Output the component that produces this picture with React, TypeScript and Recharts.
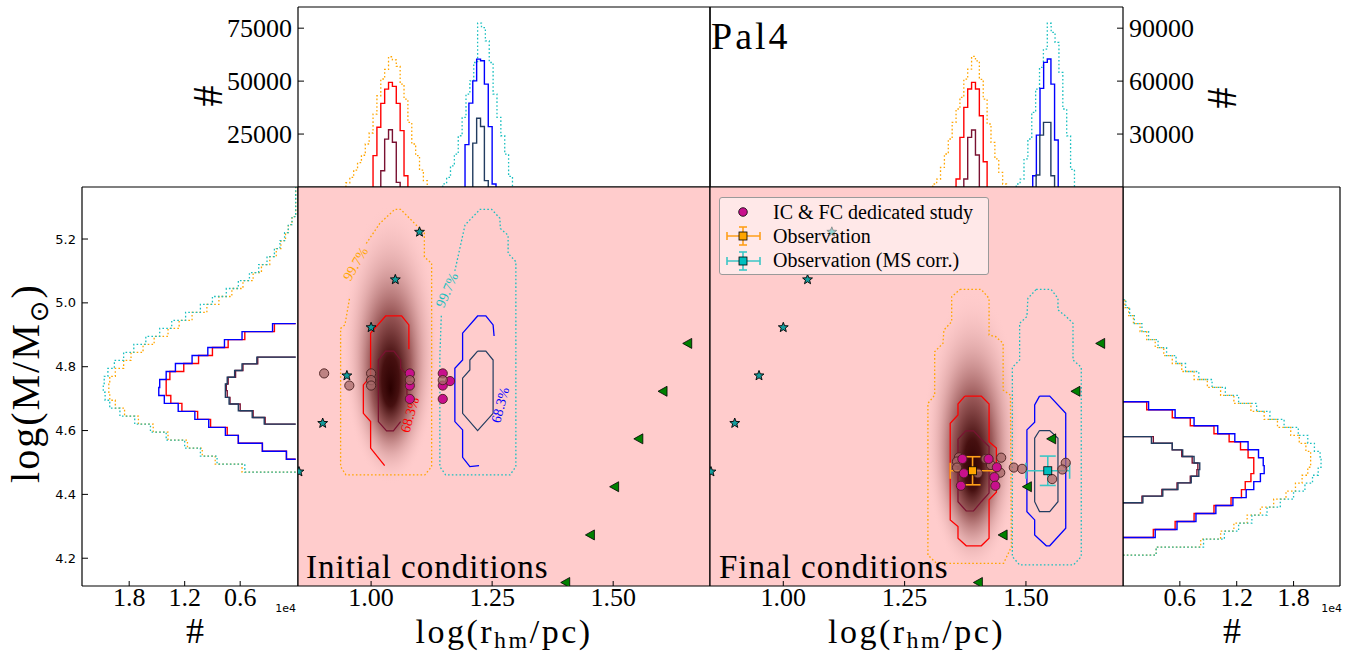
import React from 'react';
import { ComposedChart, Line, Scatter, XAxis, YAxis, CartesianGrid, ReferenceArea, ErrorBar, Legend } from 'recharts';

const SERIF = "'Liberation Serif', 'Times New Roman', serif";
const SANS = "'DejaVu Sans', Arial, sans-serif";

const ORANGE = '#ffa500';
const CYAN = '#19bfbf';
const RED = '#ff0000';
const BLUE = '#0000ff';
const MAROON = '#7a1232';
const NAVY = '#223c60';
const PINK = '#ffcccc';
const MAGENTA = '#c8108c';
const BROWN = '#a86a6a';

// ---- axes ----
const R_DOMAIN = [0.849, 1.7];
const M_DOMAIN = [4.113, 5.363];
const R_TICKS_MAIN = [1.0, 1.25, 1.5];
const R_TICKS_HIST = [0.9, 1.0, 1.1, 1.2, 1.3, 1.4, 1.5, 1.6];
const M_TICKS = [4.2, 4.4, 4.6, 4.8, 5.0, 5.2];
const N_DOMAIN_IC = [0, 85000];
const N_TICKS_IC = [25000, 50000, 75000];
const N_DOMAIN_FC = [0, 102000];
const N_TICKS_FC = [30000, 60000, 90000];
const NM_DOMAIN_IC = [-250, 23100];
const NM_DOMAIN_FC = [0, 22900];
const NM_TICKS = [6000, 12000, 18000];

// ---- top histograms: counts per log(r_hm/pc) bin ----
const IC_R_ORANGE_X0 = 0.948;
const IC_R_ORANGE = [2000, 4500, 8000, 11500, 15000, 20300, 25500, 34400, 43100, 51000, 55500, 61500, 60000, 57000, 48600, 41500, 30500, 20300, 14800, 8000, 3000];
const IC_R_RED_X0 = 1.004;
const IC_R_RED = [14800, 28200, 39500, 46200, 49400, 47500, 39500, 26600, 5300];
const IC_R_MAROON_X0 = 1.02;
const IC_R_MAROON = [7700, 22600, 27000, 21100, 2200];
const IC_R_CYAN_X0 = 1.148;
const IC_R_CYAN = [1500, 4500, 10000, 15500, 24200, 32900, 43900, 50100, 58800, 77400, 75300, 69000, 58800, 43900, 32900, 24200, 15500, 5000];
const IC_R_BLUE_X0 = 1.194;
const IC_R_BLUE = [20000, 39600, 50100, 60400, 59600, 48600, 28500, 1400];
const IC_R_NAVY_X0 = 1.21;
const IC_R_NAVY = [20700, 32500, 28600, 3000];

const FC_R_ORANGE_X0 = 1.308;
const FC_R_ORANGE = [1700, 4500, 11100, 18700, 27200, 36600, 44200, 50800, 61100, 66800, 74000, 71500, 61000, 49800, 35700, 25300, 15900, 8300, 1700];
const FC_R_RED_X0 = 1.356;
const FC_R_RED = [4500, 28100, 45100, 55500, 59300, 55500, 40400, 14300];
const FC_R_MAROON_X0 = 1.372;
const FC_R_MAROON = [4500, 28100, 32300, 18100];
const FC_R_CYAN_X0 = 1.48;
const FC_R_CYAN = [1700, 4500, 15900, 27200, 42300, 55500, 67800, 78100, 92800, 87600, 81900, 64900, 44200, 29000, 10000];
const FC_R_BLUE_X0 = 1.514;
const FC_R_BLUE = [6400, 29400, 55900, 70600, 72500, 58300, 26600];
const FC_R_NAVY_X0 = 1.521;
const FC_R_NAVY = [6800, 29400, 36600, 36600, 6400];

// ---- side histograms: counts per log(M/Msun) bin ----
const IC_M_WIDE_Y0 = 4.47;
const IC_M_ORANGE = [5800, 8700, 10100, 11700, 13800, 15400, 17000, 18500, 19500, 20100, 20200, 20100, 19500, 18600, 17800, 16500, 15300, 13800, 12600, 11200, 9600, 8300, 6900, 5700, 4600, 3700, 2800, 2100, 1600, 1100, 800, 400, 0, 0, 0, 0, 0];
const IC_M_CYAN = [5500, 8500, 10300, 12000, 14000, 15700, 17400, 19000, 20100, 20600, 20800, 20700, 20300, 19600, 18600, 17500, 16200, 14700, 13400, 11900, 10300, 9000, 7500, 6200, 5000, 4000, 3100, 2300, 1700, 1200, 800, 400, 0, 0, 0, 0, 0];
const IC_M_MID_Y0 = 4.51;
const IC_M_RED = [1000, 3600, 6200, 7400, 9200, 10600, 12300, 13500, 14000, 14000, 13600, 12100, 10500, 9000, 7300, 5500, 2300];
const IC_M_BLUE = [1000, 3600, 6200, 7600, 9400, 10900, 12700, 14200, 14800, 14700, 14000, 13000, 11200, 9500, 7700, 5800, 2500];
const IC_M_CORE_Y0 = 4.62;
const IC_M_MAROON = [3300, 4600, 6000, 7100, 7400, 7500, 7300, 6500, 5700, 4100];
const IC_M_NAVY = [3400, 4700, 6200, 7200, 7600, 7600, 7400, 6600, 5800, 4200];

const FC_M_WIDE_Y0 = 4.21;
const FC_M_ORANGE = [3500, 8200, 10300, 11700, 13100, 14500, 15900, 17200, 18200, 18900, 19500, 19800, 19800, 19300, 18600, 17700, 16300, 14900, 13500, 11700, 10300, 8900, 7500, 6200, 5200, 4300, 3400, 2500, 1800, 1100, 600, 200];
const FC_M_CYAN = [3500, 8500, 10700, 12200, 13600, 15200, 16600, 18000, 19200, 20000, 20600, 20900, 20800, 20200, 19500, 18500, 17000, 15500, 14100, 12200, 10800, 9400, 8000, 6600, 5600, 4600, 3700, 2700, 2000, 1200, 700, 300];
const FC_M_MID_Y0 = 4.265;
const FC_M_RED = [3200, 5500, 7500, 9600, 11400, 12500, 12900, 13500, 13800, 13800, 13200, 12400, 11200, 9600, 7100, 5200, 2500];
const FC_M_BLUE = [3400, 5700, 7700, 9800, 11600, 13000, 13800, 14500, 14900, 14800, 14300, 13200, 11800, 10000, 7500, 5500, 2700];
const FC_M_CORE_Y0 = 4.374;
const FC_M_MAROON = [2000, 4100, 5700, 7100, 7800, 7900, 7300, 6200, 5200, 3200];
const FC_M_NAVY = [2100, 4200, 5800, 7200, 8000, 8100, 7500, 6300, 5200, 3000];

// ---- contours (log r, log M) ----
const IC_C_ORANGE = [[0.99, 5.186], [1.018, 5.249], [1.049, 5.293], [1.061, 5.293], [1.11, 5.218], [1.11, 5.144], [1.125, 5.124], [1.125, 4.487], [1.111, 4.461], [0.948, 4.461], [0.937, 4.487], [0.937, 4.92], [0.946, 4.931], [0.956, 5.019]];
const IC_C_CYAN = [[1.173, 5.1], [1.194, 5.244], [1.225, 5.293], [1.249, 5.293], [1.266, 5.265], [1.267, 5.233], [1.283, 5.212], [1.283, 5.155], [1.299, 5.129], [1.299, 4.487], [1.287, 4.461], [1.154, 4.461], [1.142, 4.487], [1.142, 4.831], [1.145, 4.96]];
const IC_C_RED = [[1.078, 4.855], [1.078, 4.931], [1.063, 4.959], [1.03, 4.959], [0.999, 4.905], [0.999, 4.769], [0.984, 4.743], [0.984, 4.654], [0.999, 4.628], [0.999, 4.545], [1.028, 4.49]];
const IC_C_MAROON = [[1.074, 4.711], [1.074, 4.776], [1.061, 4.795], [1.061, 4.821], [1.047, 4.849], [1.03, 4.849], [1.015, 4.821], [1.015, 4.628], [1.032, 4.599], [1.046, 4.599], [1.061, 4.628]];
const IC_C_BLUE = [[1.254, 4.896], [1.252, 4.931], [1.237, 4.959], [1.22, 4.959], [1.189, 4.905], [1.189, 4.821], [1.173, 4.795], [1.173, 4.628], [1.189, 4.602], [1.189, 4.516], [1.204, 4.487], [1.223, 4.49]];
const IC_C_NAVY = [[1.22, 4.849], [1.237, 4.849], [1.252, 4.821], [1.252, 4.654], [1.22, 4.6], [1.189, 4.654], [1.189, 4.764], [1.204, 4.79], [1.204, 4.821], [1.22, 4.849]];

const FC_C_ORANGE = [[1.364, 5.042], [1.408, 5.042], [1.424, 5.014], [1.424, 4.899], [1.438, 4.894], [1.453, 4.873], [1.453, 4.727], [1.468, 4.711], [1.47, 4.236], [1.454, 4.184], [1.316, 4.184], [1.298, 4.21], [1.298, 4.685], [1.312, 4.711], [1.312, 4.847], [1.329, 4.873], [1.331, 4.915], [1.347, 4.941], [1.347, 5.019], [1.364, 5.042]];
const FC_C_CYAN = [[1.521, 5.042], [1.552, 5.042], [1.566, 5.014], [1.566, 4.978], [1.583, 4.957], [1.597, 4.936], [1.597, 4.821], [1.614, 4.798], [1.614, 4.205], [1.598, 4.179], [1.487, 4.179], [1.472, 4.205], [1.472, 4.798], [1.487, 4.821], [1.487, 4.936], [1.502, 4.957], [1.504, 5.014], [1.521, 5.042]];
const FC_C_RED = [[1.374, 4.708], [1.408, 4.708], [1.424, 4.683], [1.424, 4.565], [1.439, 4.545], [1.439, 4.407], [1.424, 4.383], [1.424, 4.263], [1.408, 4.239], [1.377, 4.239], [1.36, 4.263], [1.36, 4.299], [1.344, 4.32], [1.344, 4.623], [1.36, 4.649], [1.36, 4.683], [1.374, 4.708]];
const FC_C_MAROON = [[1.376, 4.599], [1.392, 4.599], [1.408, 4.573], [1.424, 4.55], [1.424, 4.404], [1.408, 4.377], [1.392, 4.348], [1.377, 4.348], [1.36, 4.377], [1.36, 4.573], [1.376, 4.599]];
const FC_C_BLUE = [[1.528, 4.708], [1.549, 4.708], [1.582, 4.654], [1.582, 4.294], [1.549, 4.239], [1.542, 4.239], [1.518, 4.273], [1.518, 4.32], [1.502, 4.346], [1.502, 4.602], [1.518, 4.626], [1.518, 4.68], [1.528, 4.708]];
const FC_C_NAVY = [[1.528, 4.6], [1.549, 4.6], [1.566, 4.576], [1.566, 4.377], [1.549, 4.346], [1.528, 4.346], [1.518, 4.377], [1.518, 4.576], [1.528, 4.6]];

// contour level labels (position in data units)
const IC_LABEL_ORANGE = [{ x: 0.968, y: 5.122 }];
const IC_LABEL_CYAN = [{ x: 1.157, y: 5.04 }];
const IC_LABEL_RED = [{ x: 1.08, y: 4.649 }];
const IC_LABEL_BLUE = [{ x: 1.267, y: 4.68 }];

// ---- point sets ----
const STARS = [[1.1, 5.222], [1.05, 5.073], [1.0, 4.923], [0.95, 4.772], [0.9, 4.623], [0.851, 4.471]];
const TRIANGLES = [[1.654, 4.873], [1.603, 4.723], [1.553, 4.574], [1.503, 4.424], [1.453, 4.273], [1.402, 4.124]];
const IC_STUDY = [[1.08, 4.779], [1.08, 4.741], [1.08, 4.699], [1.148, 4.779], [1.148, 4.741], [1.148, 4.699], [1.163, 4.755]];
const IC_OTHER = [[0.903, 4.779], [0.955, 4.741], [1.0, 4.779], [1.0, 4.758], [1.0, 4.741], [1.08, 4.758], [1.148, 4.758]];
const FC_STUDY = [[1.369, 4.511], [1.372, 4.466], [1.366, 4.427], [1.423, 4.511], [1.44, 4.485], [1.435, 4.454], [1.437, 4.427]];
const FC_OTHER = [[1.362, 4.516], [1.358, 4.503], [1.358, 4.484], [1.401, 4.466], [1.417, 4.511], [1.428, 4.492], [1.449, 4.515], [1.447, 4.468], [1.475, 4.484], [1.492, 4.48], [1.554, 4.448], [1.582, 4.499], [1.575, 4.478]];
const OBS = [{ x: 1.39, y: 4.474, ex: 0.046, ey: 0.044 }];
const OBS_MS = [{ x: 1.545, y: 4.474, ex: 0.045, ey: 0.046 }];

const LEGEND_ITEMS = ['IC & FC dedicated study', 'Observation', 'Observation (MS corr.)'];

// ---------- helpers ----------
const pts = (a: number[][]) => a.map(([x, y]) => ({ x, y }));
const stepH = (x0: number, dx: number, counts: number[]) => {
  const out = [{ x: x0, y: 0 }];
  counts.forEach((c, i) => {
    out.push({ x: x0 + i * dx, y: c }, { x: x0 + (i + 1) * dx, y: c });
  });
  out.push({ x: x0 + counts.length * dx, y: 0 });
  return out;
};
const stepV = (y0: number, dy: number, counts: number[]) => stepH(y0, dy, counts).map((p) => ({ x: p.y, y: p.x }));

const NO_MARGIN = { top: 0, right: 0, bottom: 0, left: 0 };
const FRAME = { stroke: '#000', strokeWidth: 1.2 };
const TICK = { stroke: '#000', strokeWidth: 1 };
const TICK_FONT = { fontSize: 26, fontFamily: SERIF, fill: '#000' };

const line = (key: string, data: any[], color: string, dotted: boolean, yId = 'l', w = 1.4) => (
  <Line
    key={key}
    data={data}
    dataKey="y"
    xAxisId="b"
    yAxisId={yId}
    type="linear"
    stroke={color}
    strokeWidth={dotted ? 1.3 : w}
    strokeDasharray={dotted ? '1.6 2.2' : undefined}
    dot={false}
    activeDot={false}
    isAnimationActive={false}
  />
);

const xPair = (domain: number[], ticks: number[], bottomH: number, topH: number, fmt?: (v: number) => string, reversed = false) => [
  <XAxis key="xb" xAxisId="b" orientation="bottom" dataKey="x" type="number" domain={domain} allowDataOverflow reversed={reversed}
    ticks={ticks} interval={0} height={bottomH} tickSize={-5} tickMargin={7} tick={fmt ? TICK_FONT : false}
    tickFormatter={fmt} axisLine={FRAME} tickLine={TICK} />,
  <XAxis key="xt" xAxisId="t" orientation="top" type="number" domain={domain} allowDataOverflow reversed={reversed}
    ticks={ticks} interval={0} height={topH} tickSize={-5} tick={false} axisLine={FRAME} tickLine={TICK} />,
];

const yPair = (domain: number[], ticks: number[], leftW: number, rightW: number, opts: { left?: any; right?: any; rDomain?: number[]; rTicks?: number[]; fmt?: (v: number) => string }) => [
  <YAxis key="yl" yAxisId="l" orientation="left" dataKey="y" type="number" domain={domain} allowDataOverflow ticks={ticks}
    interval={0} width={leftW} tickSize={-6} tickMargin={opts.left ? 12 : 0} tick={opts.left || false} tickFormatter={opts.fmt}
    axisLine={FRAME} tickLine={TICK} />,
  <YAxis key="yr" yAxisId="r" orientation="right" type="number" domain={opts.rDomain || domain} allowDataOverflow
    ticks={opts.rTicks || ticks} interval={0} width={rightW} tickSize={-6} tickMargin={12} tick={opts.right || false}
    axisLine={FRAME} tickLine={TICK} />,
];

const Star = (p: any) => {
  const v: string[] = [];
  for (let k = 0; k < 10; k++) {
    const r = k % 2 === 0 ? 5.2 : 2.2;
    const a = -Math.PI / 2 + (k * Math.PI) / 5;
    v.push(`${p.cx + r * Math.cos(a)},${p.cy + r * Math.sin(a)}`);
  }
  return <polygon points={v.join(' ')} fill="#139c9c" stroke="#000" strokeWidth={0.9} />;
};
const Tri = (p: any) => (
  <polygon points={`${p.cx - 5},${p.cy} ${p.cx + 4},${p.cy - 5} ${p.cx + 4},${p.cy + 5}`} fill="#008000" stroke="#000" strokeWidth={0.8} />
);
const dotShape = (fill: string, opacity: number) => (p: any) => (
  <circle cx={p.cx} cy={p.cy} r={4.6} fill={fill} fillOpacity={opacity} stroke="#4a1f1f" strokeWidth={0.9} />
);
const squareShape = (fill: string) => (p: any) => (
  <rect x={p.cx - 4} y={p.cy - 4} width={8} height={8} fill={fill} stroke="#000" strokeWidth={0.8} />
);
const labelShape = (text: string, color: string, angle: number) => (p: any) => (
  <text x={p.cx} y={p.cy} transform={`rotate(${angle} ${p.cx} ${p.cy})`} textAnchor="middle" dominantBaseline="central"
    fill={color} fontSize={14} fontFamily={SERIF}>{text}</text>
);

const scatter = (key: string, data: any[], shape: any) => (
  <Scatter key={key} xAxisId="b" yAxisId="l" data={data} shape={shape} isAnimationActive={false} />
);

const blobGradient = (id: string, fy: number) => (
  <defs key={id}>
    <radialGradient id={id} cx="0.5" cy="0.5" r="0.5" fx="0.5" fy={fy}>
      <stop offset="0" stopColor="#2a0000" stopOpacity={1} />
      <stop offset="0.18" stopColor="#3c0606" stopOpacity={0.95} />
      <stop offset="0.42" stopColor="#752e2e" stopOpacity={0.72} />
      <stop offset="0.68" stopColor="#b27474" stopOpacity={0.36} />
      <stop offset="1" stopColor="#ffcccc" stopOpacity={0} />
    </radialGradient>
  </defs>
);

// ---------- panels ----------
function TopHistIC() {
  return (
    <ComposedChart width={522} height={192} margin={NO_MARGIN}>
      {xPair(R_DOMAIN, R_TICKS_HIST, 5, 7)}
      {yPair(N_DOMAIN_IC, N_TICKS_IC, 100, 10, { left: TICK_FONT })}
      {line('o', stepH(IC_R_ORANGE_X0, 0.008, IC_R_ORANGE), ORANGE, true)}
      {line('r', stepH(IC_R_RED_X0, 0.008, IC_R_RED), RED, false)}
      {line('m', stepH(IC_R_MAROON_X0, 0.008, IC_R_MAROON), MAROON, false)}
      {line('c', stepH(IC_R_CYAN_X0, 0.008, IC_R_CYAN), CYAN, true)}
      {line('b', stepH(IC_R_BLUE_X0, 0.008, IC_R_BLUE), BLUE, false)}
      {line('n', stepH(IC_R_NAVY_X0, 0.008, IC_R_NAVY), NAVY, false)}
    </ComposedChart>
  );
}

function TopHistFC() {
  return (
    <ComposedChart width={523} height={192} margin={NO_MARGIN}>
      {xPair(R_DOMAIN, R_TICKS_HIST, 5, 7)}
      {yPair(N_DOMAIN_IC, N_TICKS_IC, 10, 100, { right: TICK_FONT, rDomain: N_DOMAIN_FC, rTicks: N_TICKS_FC })}
      {line('o', stepH(FC_R_ORANGE_X0, 0.008, FC_R_ORANGE), ORANGE, true, 'r')}
      {line('r', stepH(FC_R_RED_X0, 0.008, FC_R_RED), RED, false, 'r')}
      {line('m', stepH(FC_R_MAROON_X0, 0.008, FC_R_MAROON), MAROON, false, 'r')}
      {line('c', stepH(FC_R_CYAN_X0, 0.008, FC_R_CYAN), CYAN, true, 'r')}
      {line('b', stepH(FC_R_BLUE_X0, 0.0075, FC_R_BLUE), BLUE, false, 'r')}
      {line('n', stepH(FC_R_NAVY_X0, 0.0076, FC_R_NAVY), NAVY, false, 'r')}
    </ComposedChart>
  );
}

const fmtE4 = (v: number) => (v / 10000).toFixed(1);
const SANS_TICK = { fontSize: 13, fontFamily: SANS, fill: '#000' };

function SideHistIC() {
  return (
    <ComposedChart width={291} height={448} margin={NO_MARGIN}>
      {xPair(NM_DOMAIN_IC, NM_TICKS, 44, 5, fmtE4, true)}
      {yPair(M_DOMAIN, M_TICKS, 70, 5, { left: SANS_TICK, fmt: (v: number) => v.toFixed(1) })}
      {line('o', stepV(IC_M_WIDE_Y0, 0.025, IC_M_ORANGE), ORANGE, true)}
      {line('c', stepV(IC_M_WIDE_Y0, 0.025, IC_M_CYAN), CYAN, true)}
      {line('r', stepV(IC_M_MID_Y0, 0.025, IC_M_RED), RED, false)}
      {line('b', stepV(IC_M_MID_Y0, 0.025, IC_M_BLUE), BLUE, false)}
      {line('m', stepV(IC_M_CORE_Y0, 0.021, IC_M_MAROON), MAROON, false)}
      {line('n', stepV(IC_M_CORE_Y0, 0.021, IC_M_NAVY), NAVY, false)}
    </ComposedChart>
  );
}

function SideHistFC() {
  return (
    <ComposedChart width={232} height={448} margin={NO_MARGIN}>
      {xPair(NM_DOMAIN_FC, NM_TICKS, 44, 5, fmtE4)}
      {yPair(M_DOMAIN, M_TICKS, 5, 10, {})}
      {line('o', stepV(FC_M_WIDE_Y0, 0.025, FC_M_ORANGE), ORANGE, true)}
      {line('c', stepV(FC_M_WIDE_Y0, 0.025, FC_M_CYAN), CYAN, true)}
      {line('r', stepV(FC_M_MID_Y0, 0.025, FC_M_RED), RED, false)}
      {line('b', stepV(FC_M_MID_Y0, 0.025, FC_M_BLUE), BLUE, false)}
      {line('m', stepV(FC_M_CORE_Y0, 0.0207, FC_M_MAROON), MAROON, false)}
      {line('n', stepV(FC_M_CORE_Y0, 0.0207, FC_M_NAVY), NAVY, false)}
    </ComposedChart>
  );
}

const mainAxes = () => [
  ...xPair(R_DOMAIN, R_TICKS_MAIN, 44, 5, (v: number) => v.toFixed(2)),
  ...yPair(M_DOMAIN, M_TICKS, 5, 5, {}),
];

function MainIC() {
  return (
    <ComposedChart width={422} height={448} margin={NO_MARGIN}>
      {blobGradient('blobIC', 0.66)}
      {mainAxes()}
      <CartesianGrid xAxisId="b" yAxisId="l" horizontal={false} vertical={false} fill={PINK} fillOpacity={1} />
      <ReferenceArea xAxisId="b" yAxisId="l" x1={0.94} x2={1.14} y1={4.43} y2={5.31} fill="url(#blobIC)" fillOpacity={1} stroke="none" />
      {line('o', pts(IC_C_ORANGE), ORANGE, true)}
      {line('c', pts(IC_C_CYAN), CYAN, true)}
      {line('r', pts(IC_C_RED), RED, false, 'l', 1.3)}
      {line('m', pts(IC_C_MAROON), MAROON, false, 'l', 1.2)}
      {line('b', pts(IC_C_BLUE), BLUE, false, 'l', 1.3)}
      {line('n', pts(IC_C_NAVY), NAVY, false, 'l', 1.2)}
      {scatter('lo', IC_LABEL_ORANGE, labelShape('99.7%', ORANGE, -60))}
      {scatter('lc', IC_LABEL_CYAN, labelShape('99.7%', CYAN, -66))}
      {scatter('lr', IC_LABEL_RED, labelShape('68.3%', RED, -74))}
      {scatter('lb', IC_LABEL_BLUE, labelShape('68.3%', BLUE, -75))}
      {scatter('st', pts(STARS), Star)}
      {scatter('tr', pts(TRIANGLES), Tri)}
      {scatter('ms', pts(IC_STUDY), dotShape(MAGENTA, 1))}
      {scatter('ot', pts(IC_OTHER), dotShape(BROWN, 0.75))}
    </ComposedChart>
  );
}

const LegendMarker = ({ i }: { i: number }) => {
  if (i === 0) return <circle cx={23} cy={12} r={4.3} fill={MAGENTA} stroke="#000" strokeWidth={0.8} />;
  const bar = i === 1 ? '#ff9f1a' : '#3cc6c6';
  const fill = i === 1 ? ORANGE : '#00bfbf';
  return (
    <g stroke={bar} strokeWidth={1.6}>
      <line x1={7} y1={12} x2={40} y2={12} />
      <line x1={7} y1={8} x2={7} y2={16} />
      <line x1={40} y1={8} x2={40} y2={16} />
      <line x1={23} y1={3} x2={23} y2={21} />
      <line x1={19} y1={3} x2={27} y2={3} />
      <line x1={19} y1={21} x2={27} y2={21} />
      <rect x={19} y={8} width={8} height={8} fill={fill} stroke="#000" strokeWidth={0.8} />
    </g>
  );
};

const LegendBox = () => (
  <div style={{ boxSizing: 'border-box', width: 270, height: 78, border: '1px solid #9a9a9a', borderRadius: 3,
    background: 'rgba(255,255,255,0.55)', fontFamily: SERIF, fontSize: 20, paddingTop: 2, color: '#000' }}>
    {LEGEND_ITEMS.map((label, i) => (
      <div key={label} style={{ display: 'flex', alignItems: 'center', height: 24.3 }}>
        <svg width={53} height={24} style={{ flex: 'none' }}><LegendMarker i={i} /></svg>
        <span style={{ whiteSpace: 'nowrap' }}>{label}</span>
      </div>
    ))}
  </div>
);

function MainFC() {
  return (
    <ComposedChart width={423} height={448} margin={NO_MARGIN}>
      {blobGradient('blobFC', 0.64)}
      {mainAxes()}
      <CartesianGrid xAxisId="b" yAxisId="l" horizontal={false} vertical={false} fill={PINK} fillOpacity={1} />
      <ReferenceArea xAxisId="b" yAxisId="l" x1={1.29} x2={1.49} y1={4.15} y2={5.04} fill="url(#blobFC)" fillOpacity={1} stroke="none" />
      {line('o', pts(FC_C_ORANGE), ORANGE, true)}
      {line('c', pts(FC_C_CYAN), CYAN, true)}
      {line('r', pts(FC_C_RED), RED, false, 'l', 1.3)}
      {line('m', pts(FC_C_MAROON), MAROON, false, 'l', 1.2)}
      {line('b', pts(FC_C_BLUE), BLUE, false, 'l', 1.3)}
      {line('n', pts(FC_C_NAVY), NAVY, false, 'l', 1.2)}
      {scatter('st', pts(STARS), Star)}
      {scatter('tr', pts(TRIANGLES), Tri)}
      {scatter('ot', pts(FC_OTHER), dotShape(BROWN, 0.75))}
      {scatter('ms', pts(FC_STUDY), dotShape(MAGENTA, 1))}
      <Scatter xAxisId="b" yAxisId="l" data={OBS} shape={squareShape(ORANGE)} isAnimationActive={false}>
        <ErrorBar dataKey="ex" direction="x" width={8} stroke="#ff9f1a" strokeWidth={1.6} isAnimationActive={false} />
        <ErrorBar dataKey="ey" direction="y" width={8} stroke="#ff9f1a" strokeWidth={1.6} isAnimationActive={false} />
      </Scatter>
      <Scatter xAxisId="b" yAxisId="l" data={OBS_MS} shape={squareShape('#00bfbf')} isAnimationActive={false}>
        <ErrorBar dataKey="ex" direction="x" width={8} stroke="#3cc6c6" strokeWidth={1.6} isAnimationActive={false} />
        <ErrorBar dataKey="ey" direction="y" width={8} stroke="#3cc6c6" strokeWidth={1.6} isAnimationActive={false} />
      </Scatter>
      <Legend layout="vertical" align="center" verticalAlign="middle" wrapperStyle={{ left: 14, top: 15, width: 270 }} content={() => <LegendBox />} />
    </ComposedChart>
  );
}

const At = ({ left, top, children }: { left: number; top: number; children: React.ReactNode }) => (
  <div style={{ position: 'absolute', left, top }}>{children}</div>
);

export default function App() {
  const big = { fontFamily: SERIF, fill: '#000' };
  return (
    <div style={{ position: 'absolute', left: 0, top: 0, width: 1355, height: 654, background: '#fff', overflow: 'hidden' }}>
      <At left={198} top={0}><TopHistIC /></At>
      <At left={700} top={0}><TopHistFC /></At>
      <At left={12} top={182}><SideHistIC /></At>
      <At left={1118} top={182}><SideHistFC /></At>
      <At left={293} top={182}><MainIC /></At>
      <At left={705} top={182}><MainFC /></At>
      <svg width={1355} height={654} style={{ position: 'absolute', left: 0, top: 0, pointerEvents: 'none' }}>
        <text x={711} y={49} fontSize={38} letterSpacing={3} {...big}>Pal4</text>
        <text x={306} y={578} fontSize={33} letterSpacing={1} {...big}>Initial conditions</text>
        <text x={719} y={578} fontSize={33} letterSpacing={1} {...big}>Final conditions</text>
        {[504, 916.5].map((cx) => (
          <text key={cx} x={cx} y={643} textAnchor="middle" fontSize={34} letterSpacing={2.5} {...big}>
            log(r<tspan dy={5} fontSize={24}>hm</tspan><tspan dy={-5}>/pc)</tspan>
          </text>
        ))}
        <text transform="translate(39,383) rotate(-90)" textAnchor="middle" fontSize={40} letterSpacing={2} {...big}>
          log(M/M<tspan dy={9} fontSize={26} fontFamily={SANS}>⊙</tspan><tspan dy={-9}>)</tspan>
        </text>
        <text x={195} y={643} textAnchor="middle" fontSize={36} {...big}>#</text>
        <text x={1232} y={643} textAnchor="middle" fontSize={36} {...big}>#</text>
        <text transform="translate(222,96) rotate(-90)" textAnchor="middle" fontSize={42} {...big}>#</text>
        <text transform="translate(1236,98) rotate(-90)" textAnchor="middle" fontSize={42} {...big}>#</text>
        <text x={296} y={612} textAnchor="end" fontSize={11} fontFamily={SANS} fill="#000">1e4</text>
        <text x={1342} y={612} textAnchor="end" fontSize={11} fontFamily={SANS} fill="#000">1e4</text>
      </svg>
    </div>
  );
}
